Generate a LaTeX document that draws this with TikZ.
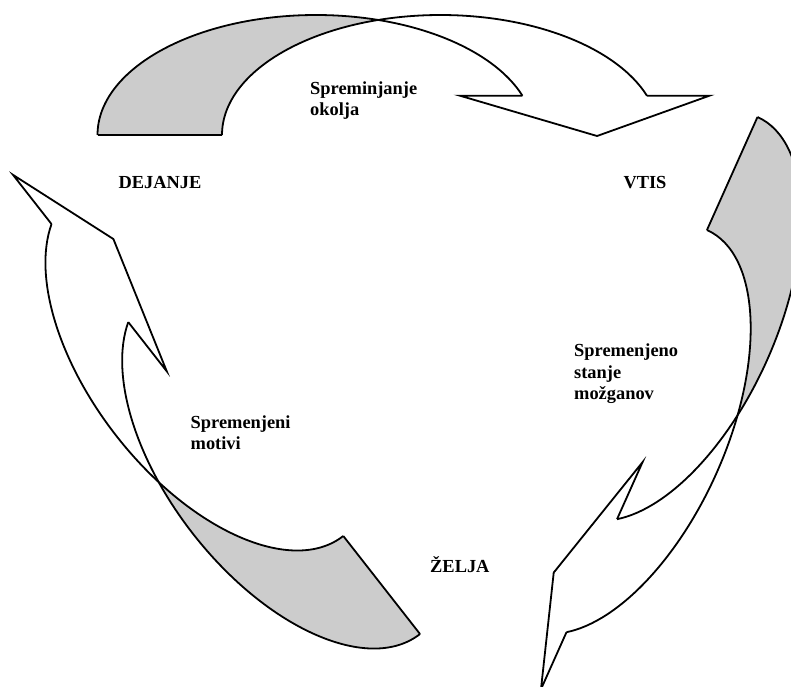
\documentclass[tikz,border=0pt]{standalone}
\usepackage{fontspec}
\setmainfont{Liberation Serif}
\definecolor{backgrey}{RGB}{204,204,204}
\tikzset{
  arrowback/.style={fill=backgrey},
  arrowline/.style={draw=black,line width=1.8pt,line join=miter},
  lbl/.style={font=\bfseries\fontsize{18.4}{21.3}\selectfont,inner sep=0pt,align=left,anchor=base west}
}
% #1,#2 base outer point (screen), #3 rotation, #4 ry, #5 head height, #6 base width, #7 tip height
\newcommand\CAcurved[7]{%
 \begin{scope}[shift={(#1,#2)},rotate=#3,x=1pt,y=1pt]
  \pgfmathsetmacro\CArx{218.5}
  \pgfmathsetmacro\CAry{#4}
  \pgfmathsetmacro\CAhh{#5}
  \pgfmathsetmacro\CAw{#6}
  \pgfmathsetmacro\CAte{asin(\CAhh/\CAry)}
  \pgfmathsetmacro\CAui{\CArx*(1+cos(\CAte))}
  \pgfmathsetmacro\CAtc{acos(\CAw/(2*\CArx))}
  \pgfmathsetmacro\CAtcb{180-\CAtc}
  \path[arrowback] (0,0) arc[start angle=180,end angle=\CAtc,x radius=\CArx,y radius=\CAry]
     arc[start angle=\CAtcb,end angle=180,x radius=\CArx,y radius=\CAry] -- cycle;
  \coordinate (outerbase) at (0,0);
  \coordinate (innerbase) at (\CAw,0);
  \coordinate (innerend) at (\CAui,\CAhh);
  \coordinate (wingin) at (\CAui-62.5,\CAhh);
  \coordinate (tip) at (\CAui+74.6,#7);
  \coordinate (wingout) at (\CAui+\CAw+62.5,\CAhh);
  \coordinate (outerend) at (\CAui+\CAw,\CAhh);
  \draw[arrowline] (outerbase) arc[start angle=180,end angle=\CAte,x radius=\CArx,y radius=\CAry];
  \draw[arrowline] (innerbase) arc[start angle=180,end angle=\CAte,x radius=\CArx,y radius=\CAry];
  \draw[arrowline] (outerbase) -- (innerbase);
  \draw[arrowline] (innerend) -- (wingin) -- (tip) -- (wingout) -- (outerend);
 \end{scope}}
\begin{document}
\begin{tikzpicture}[x=1pt,y=-1pt]
\useasboundingbox (0,0) rectangle (791,686);
\clip (0,0) rectangle (791,686);
\fill[white] (0,0) rectangle (791,686);
% top arrow: DEJANJE -> VTIS
\CAcurved{97.5}{135}{0}{120}{39.3}{124.5}{-1}
% right arrow: VTIS -> ZELJA
\CAcurved{757.5}{117}{-114.1}{108}{36}{123.8}{0}
% lower-left arrow: ZELJA -> DEJANJE
\CAcurved{420}{634}{128.05}{117}{37.5}{124.5}{-2}
% labels (multi-line nodes: base = baseline of last line)
\node[lbl] (dejanje) at (118.3,188.3) {DEJANJE};
\node[lbl] (vtis) at (623.3,188.3) {VTIS};
\node[lbl] (okolje) at (310,115.5) {Spreminjanje\\okolja};
\node[lbl] (mozgani) at (574,399.5) {Spremenjeno\\stanje\\možganov};
\node[lbl] (motivi) at (190.5,449.5) {Spremenjeni\\motivi};
\node[lbl] (zelja) at (430,572) {ŽELJA};
\end{tikzpicture}
\end{document}
